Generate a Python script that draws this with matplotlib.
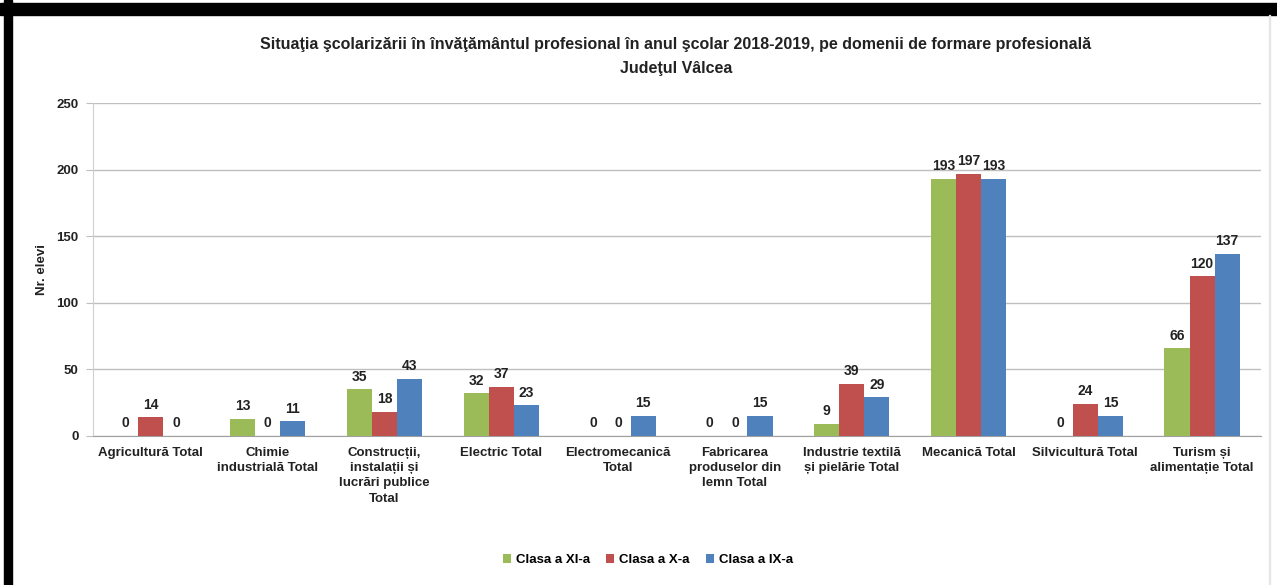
import numpy as np
import matplotlib
matplotlib.use("Agg")
import matplotlib.pyplot as plt
from matplotlib.patches import Rectangle

plt.rcParams['font.family'] = ['Liberation Sans Narrow', 'Liberation Sans', 'DejaVu Sans']

# Data
categories = ["Agricultură Total",
              "Chimie\nindustrială Total",
              "Construcții,\ninstalații și\nlucrări publice\nTotal",
              "Electric Total",
              "Electromecanică\nTotal",
              "Fabricarea\nproduselor din\nlemn Total",
              "Industrie textilă\nși pielărie Total",
              "Mecanică Total",
              "Silvicultură Total",
              "Turism și\nalimentație Total"]
series_names = ["Clasa a XI-a", "Clasa a X-a", "Clasa a IX-a"]
clasa_xi = [0, 13, 35, 32, 0, 0, 9, 193, 0, 66]
clasa_x = [14, 0, 18, 37, 0, 0, 39, 197, 24, 120]
clasa_ix = [0, 11, 43, 23, 15, 15, 29, 193, 15, 137]
colors = ["#9BBB59", "#C0504D", "#4F81BD"]

fig = plt.figure(figsize=(12.77, 5.85), dpi=100)
ax = fig.add_axes([92.5 / 1277, 1 - 436 / 585, 1168 / 1277, 333 / 585])

x = np.arange(len(categories))
w = 0.215
for i, (vals, name, c) in enumerate(zip([clasa_xi, clasa_x, clasa_ix], series_names, colors)):
    pos = x + (i - 1) * w
    ax.bar(pos, vals, width=w, color=c, label=name, zorder=3)
    for p, v in zip(pos, vals):
        ax.annotate(str(v), (p, v), xytext=(0, 4), textcoords="offset points",
                    ha="center", va="bottom", fontsize=10, fontweight="bold", color="#222222")

ax.set_xlim(-0.5, len(categories) - 0.5)
ax.set_ylim(0, 250)
ax.set_yticks(range(0, 251, 50))
ax.yaxis.grid(True, color="#BFBFBF", linewidth=1)
ax.set_axisbelow(True)
for s in ["top", "right"]:
    ax.spines[s].set_visible(False)
ax.spines["left"].set_color("#D0D0D0")
ax.spines["bottom"].set_color("#A0A0A0")
ax.tick_params(axis="y", length=5, color="#BFBFBF", labelsize=9.5, pad=5)
ax.tick_params(axis="x", length=0, labelsize=9.5, pad=8)
ax.set_xticks(x)
ax.set_xticklabels(categories, fontweight="bold", color="#222222", linespacing=1.35)
for t in ax.get_yticklabels():
    t.set_fontweight("bold")
    t.set_color("#222222")
ax.set_ylabel("Nr. elevi", fontsize=9.5, fontweight="bold", color="#222222", labelpad=6)

fig.text(676 / 1277, 1 - 45 / 585, "Situaţia şcolarizării în învăţământul profesional în anul şcolar 2018-2019, pe domenii de formare profesională",
         ha="center", va="center", fontsize=11.5, fontweight="bold", color="#222222")
fig.text(676 / 1277, 1 - 68 / 585, "Judeţul Vâlcea", ha="center", va="center",
         fontsize=11.5, fontweight="bold", color="#222222")

fig.legend(loc="center", bbox_to_anchor=(648 / 1277, 1 - 560 / 585), ncol=3, frameon=False,
           handlelength=0.6, handleheight=0.6, handletextpad=0.4,
           columnspacing=1.2, prop={"weight": "bold", "size": 9.5})

# black frame edges from the screenshot
fig.patches.append(Rectangle((4 / 1277, 0), 8 / 1277, 1, transform=fig.transFigure, color="black"))
fig.patches.append(Rectangle((0, 1 - 15 / 585), 1, 12 / 585, transform=fig.transFigure, color="black"))
fig.patches.append(Rectangle((1269 / 1277, 0), 1 / 1277, 1 - 15 / 585, transform=fig.transFigure, color="#E6E6E6"))

fig.savefig("out.png", dpi=100)
